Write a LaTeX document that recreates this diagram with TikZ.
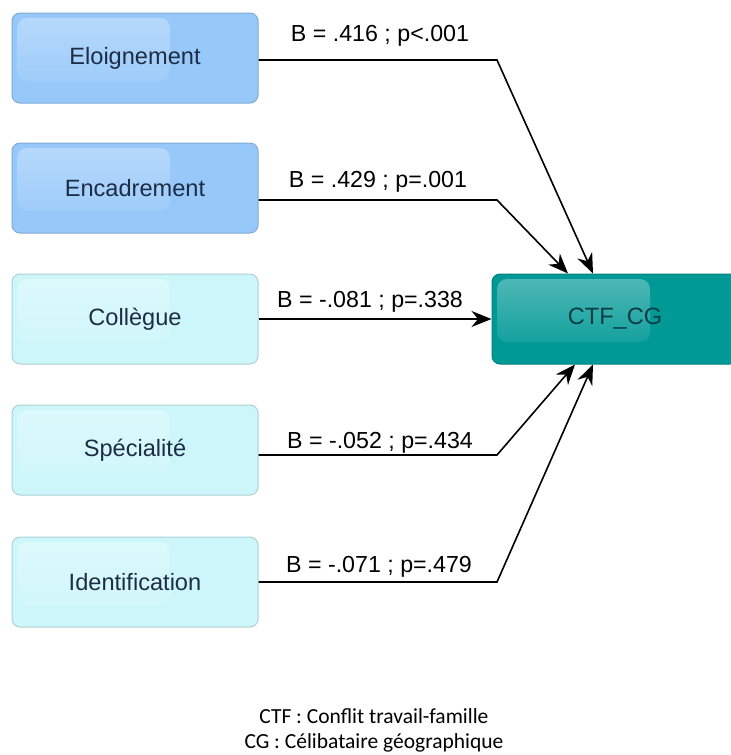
\documentclass[tikz,border=0pt]{standalone}
\usepackage{fontspec}
\setmainfont{Liberation Sans}
\newfontfamily\legendfont{Carlito}
\usepackage{xcolor}
\usepackage{tikz}
\usetikzlibrary{arrows.meta, calc}
\definecolor{bleu}{RGB}{150,200,250}
\definecolor{cyanclair}{RGB}{205,246,250}
\definecolor{sarcelle}{RGB}{0,153,150}
\definecolor{encre}{RGB}{30,45,70}
\tikzset{box/.style={draw=#1!85!black, line width=0.5pt, fill=#1,
        rounded corners=4pt, minimum width=123pt, minimum height=45pt,
        inner sep=0pt, text=encre, font=\fontsize{11.8}{14}\selectfont,
        path picture={\shade[top color=white!32!#1, bottom color=#1, rounded corners=5pt]
            ($(path picture bounding box.north west)+(5,5)$) rectangle
            ($(path picture bounding box.north west)+(158,68)$);}},
    coef/.style={anchor=base, font=\fontsize{11.6}{14}\selectfont},
    fleche/.style={line width=0.8pt, -{Stealth[length=10pt, width=8pt]}}}

\begin{document}
\begin{tikzpicture}[x=0.5pt, y=-0.5pt]
    \useasboundingbox (0,0) rectangle (730,755);
    % predictors on the left
    \node[box=bleu] (eloi) at (135,58) {Eloignement};
    \node[box=bleu] (encad) at (135,188) {Encadrement};
    \node[box=cyanclair] (coll) at (135,319) {Collègue};
    \node[box=cyanclair] (spec) at (135,450) {Spécialité};
    \node[box=cyanclair] (ident) at (135,582) {Identification};
    % outcome
    \node[box=sarcelle, text={rgb,255:red,10;green,60;blue,70}] (ctf) at (615,319) {CTF\_CG};

    \coordinate (coude) at (497,0);
    \draw[fleche] ([yshift=-1pt]eloi.east) -- ([yshift=-1pt]eloi.east -| coude) -- ([xshift=-11pt]ctf.north);
    \draw[fleche] ([yshift=-6pt]encad.east) -- ([yshift=-6pt]encad.east -| coude) -- ([xshift=-23.5pt]ctf.north);
    \draw[fleche] (coll.east) -- (ctf.west);
    \draw[fleche] ([yshift=-2.5pt]spec.east) -- ([yshift=-2.5pt]spec.east -| coude) -- ([xshift=-20pt]ctf.south);
    \draw[fleche] (ident.east) -- (ident.east -| coude) -- ([xshift=-11pt]ctf.south);

    % coefficients
    \node[coef] (b1) at (380,41) {B = .416 ; p<.001};
    \node[coef] (b2) at (378,187) {B = .429 ; p=.001};
    \node[coef] (b3) at (370,307) {B = -.081 ; p=.338};
    \node[coef] (b4) at (380,448) {B = -.052 ; p=.434};
    \node[coef] (b5) at (379,572) {B = -.071 ; p=.479};

    \node[anchor=base, align=center, font={\legendfont\fontsize{10.75}{12.5}\selectfont}] (legende) at (374,748)
        {CTF : Conflit travail-famille\\CG : Célibataire géographique};
\end{tikzpicture}
\end{document}
